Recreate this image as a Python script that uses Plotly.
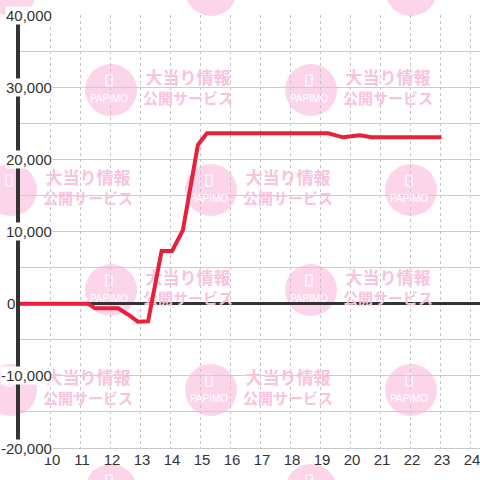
import plotly.graph_objects as go

# ---- data ----
hours = [9.0, 11.27, 11.5, 12.27, 12.6, 12.93, 13.27, 13.72, 14.07, 14.43,
         14.93, 15.23, 19.27, 19.77, 20.33, 20.72, 23.05]
balance = [0, 0, -650, -650, -1500, -2500, -2450, 7300, 7300, 10200,
           22000, 23600, 23600, 23050, 23350, 23050, 23050]
x_ticks = list(range(10, 25))
y_ticks = [-20000, -10000, 0, 10000, 20000, 30000, 40000]
y_tick_text = ["-20,000", "-10,000", "0", "10,000", "20,000", "30,000", "40,000"]

# ---- layout geometry (page pixels) ----
PL, PR, PT, PB = 20, 480, 15, 448        # plot area in page pixels
W = H = 480
ML, MT = PL, PT
MR = W - PR
MB = H - PB
PW, PH = PR - PL, PB - PT

def px(x):
    return (x - PL) / PW

def py(y):
    return (PB - y) / PH

# ---- watermark tiling (decoration) ----
CIRCLE = "#fcd5ea"
WTEXT = "#f7c3df"
rows = [-10, 90, 190, 290, 390, 490]
centers = []
for i, cy in enumerate(rows):
    xs = [11, 211, 411] if i % 2 == 0 else [-89, 111, 311]
    for cx in xs:
        centers.append((cx, cy))

shapes = []
for cx, cy in centers:
    shapes.append(dict(type="circle", xref="paper", yref="paper", layer="below",
                       x0=px(cx - 26), x1=px(cx + 26), y0=py(cy + 26), y1=py(cy - 26),
                       fillcolor=CIRCLE, line=dict(width=0)))
    shapes.append(dict(type="rect", xref="paper", yref="paper", layer="below",
                       x0=px(cx - 5), x1=px(cx + 1), y0=py(cy - 4), y1=py(cy - 15),
                       fillcolor="rgba(0,0,0,0)", line=dict(color="white", width=1.2)))

fig = go.Figure()

# watermark texts on a hidden pixel-coordinate subplot (below the data subplot)
fig.add_trace(go.Scatter(
    x=[cx + 77 for cx, cy in centers], y=[cy - 10 for cx, cy in centers],
    mode="text", text=["大当り情報"] * len(centers),
    textfont=dict(family="Noto Sans CJK JP", size=17, color=WTEXT, weight="bold"),
    cliponaxis=False, hoverinfo="skip", showlegend=False, xaxis="x", yaxis="y"))
fig.add_trace(go.Scatter(
    x=[cx + 77 for cx, cy in centers], y=[cy + 10 for cx, cy in centers],
    mode="text", text=["公開サービス"] * len(centers),
    textfont=dict(family="Noto Sans CJK JP", size=15, color=WTEXT, weight="bold"),
    cliponaxis=False, hoverinfo="skip", showlegend=False, xaxis="x", yaxis="y"))
fig.add_trace(go.Scatter(
    x=[cx - 2 for cx, cy in centers], y=[cy + 9 for cx, cy in centers],
    mode="text", text=["PAPIMO"] * len(centers),
    textfont=dict(family="Liberation Sans", size=10, color="white"),
    cliponaxis=False, hoverinfo="skip", showlegend=False, xaxis="x", yaxis="y"))

# data line
fig.add_trace(go.Scatter(
    x=hours, y=balance, mode="lines",
    line=dict(color="#e8203a", width=4),
    showlegend=False, xaxis="x2", yaxis="y2"))

annotations = []
for v, t in zip(y_ticks, y_tick_text):
    if v == 0:
        annotations.append(dict(xref="paper", yref="y2", x=0, y=v, text=t, showarrow=False,
                                xanchor="left", yanchor="middle", xshift=-14,
                                font=dict(family="Liberation Sans", size=15, color="#333"),
                                bgcolor="white", borderpad=0))
    else:
        annotations.append(dict(xref="paper", yref="y2", x=0, y=v, text=t, showarrow=False,
                                xanchor="right", yanchor="middle", xshift=33,
                                font=dict(family="Liberation Sans", size=15, color="#333"),
                                bgcolor="white", borderpad=0))

fig.update_layout(
    width=W, height=H,
    margin=dict(l=ML, r=MR, t=MT, b=MB),
    paper_bgcolor="white", plot_bgcolor="rgba(0,0,0,0)",
    shapes=shapes, annotations=annotations,
    xaxis=dict(range=[PL, PR], visible=False, fixedrange=True),
    yaxis=dict(range=[PB, PT], visible=False, fixedrange=True),
    xaxis2=dict(overlaying="x", anchor="y2", range=[9, 24.3333],
                tickmode="array", tickvals=x_ticks, ticks="",
                showgrid=True, gridcolor="#c4c4c4", griddash="dot", gridwidth=1,
                showline=True, linecolor="#c8c8c8", linewidth=1,
                tickfont=dict(family="Liberation Sans", size=15, color="#333"),
                ticklabelshift=2, ticklabelstandoff=-2, ticklabeloverflow="allow",
                zeroline=False),
    yaxis2=dict(overlaying="y", anchor="x2", range=[-20000, 40000],
                tickmode="linear", tick0=-20000, dtick=5000, showticklabels=False,
                ticks="", showgrid=True, gridcolor="#cccccc", gridwidth=1,
                zeroline=True, zerolinecolor="#333333", zerolinewidth=3,
                showline=True, linecolor="#333333", linewidth=4),
)

fig.write_html("out.html", config={"displayModeBar": False},
               post_script="document.body.style.margin='0';document.body.style.overflow='hidden';")
